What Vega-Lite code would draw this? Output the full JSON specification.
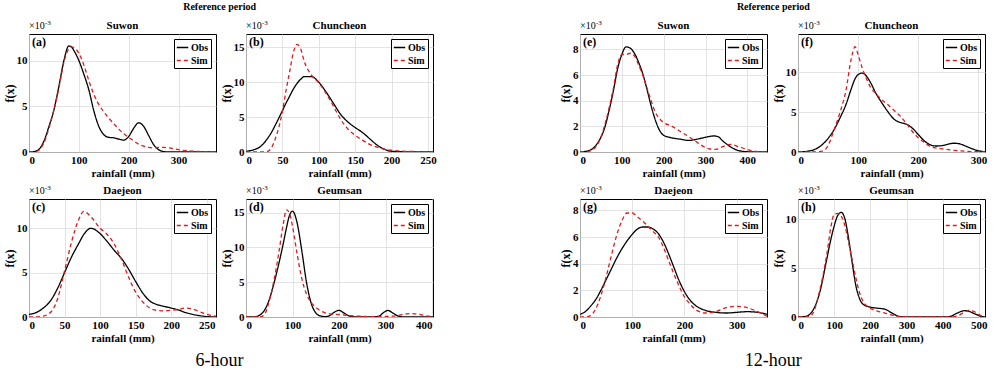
{
"$schema": "https://vega.github.io/schema/vega-lite/v6.json",
"background": "white",
"padding": {"left": 2, "top": 1, "right": 5, "bottom": 2},
"datasets": {
"a": [{"x":0,"Obs":0,"Sim":0},{"x":10,"Obs":0.05,"Sim":0.02},{"x":20,"Obs":0.3,"Sim":0.2},{"x":30,"Obs":1.2,"Sim":1.0},{"x":40,"Obs":2.8,"Sim":2.6},{"x":50,"Obs":4.6,"Sim":4.6},{"x":60,"Obs":7.2,"Sim":7.0},{"x":70,"Obs":10.0,"Sim":9.8},{"x":80,"Obs":11.6,"Sim":11.3},{"x":85,"Obs":11.5,"Sim":11.5},{"x":90,"Obs":11.1,"Sim":11.4},{"x":100,"Obs":10.0,"Sim":10.8},{"x":110,"Obs":8.5,"Sim":9.5},{"x":120,"Obs":6.8,"Sim":7.8},{"x":130,"Obs":4.5,"Sim":6.3},{"x":140,"Obs":2.8,"Sim":5.2},{"x":150,"Obs":1.9,"Sim":4.4},{"x":160,"Obs":1.6,"Sim":3.7},{"x":170,"Obs":1.55,"Sim":3.1},{"x":180,"Obs":1.4,"Sim":2.5},{"x":190,"Obs":1.3,"Sim":2.0},{"x":200,"Obs":1.7,"Sim":1.6},{"x":210,"Obs":2.6,"Sim":1.2},{"x":220,"Obs":3.2,"Sim":0.85},{"x":230,"Obs":2.8,"Sim":0.65},{"x":240,"Obs":1.8,"Sim":0.5},{"x":250,"Obs":0.8,"Sim":0.45},{"x":260,"Obs":0.25,"Sim":0.5},{"x":270,"Obs":0.05,"Sim":0.5},{"x":280,"Obs":0,"Sim":0.45},{"x":290,"Obs":0,"Sim":0.35},{"x":300,"Obs":0,"Sim":0.25},{"x":320,"Obs":0,"Sim":0.12},{"x":340,"Obs":0,"Sim":0.06},{"x":375,"Obs":0,"Sim":0.02}],
"b": [{"x":0,"Obs":0.1,"Sim":0},{"x":10,"Obs":0.3,"Sim":0},{"x":20,"Obs":0.8,"Sim":0},{"x":30,"Obs":2.0,"Sim":0.1},{"x":35,"Obs":2.8,"Sim":0.6},{"x":40,"Obs":3.8,"Sim":1.8},{"x":50,"Obs":5.9,"Sim":5.8},{"x":55,"Obs":7.0,"Sim":8.8},{"x":60,"Obs":8.0,"Sim":11.5},{"x":65,"Obs":9.0,"Sim":14.2},{"x":70,"Obs":9.8,"Sim":15.4},{"x":75,"Obs":10.4,"Sim":14.8},{"x":80,"Obs":10.8,"Sim":13.0},{"x":90,"Obs":10.8,"Sim":11.0},{"x":100,"Obs":10.0,"Sim":9.9},{"x":110,"Obs":8.6,"Sim":8.4},{"x":120,"Obs":7.0,"Sim":6.6},{"x":130,"Obs":5.4,"Sim":4.7},{"x":140,"Obs":4.3,"Sim":3.3},{"x":150,"Obs":3.5,"Sim":2.4},{"x":160,"Obs":2.8,"Sim":1.7},{"x":170,"Obs":1.9,"Sim":1.1},{"x":180,"Obs":1.0,"Sim":0.7},{"x":190,"Obs":0.4,"Sim":0.4},{"x":200,"Obs":0.1,"Sim":0.25},{"x":220,"Obs":0.02,"Sim":0.1},{"x":240,"Obs":0,"Sim":0.05},{"x":257,"Obs":0,"Sim":0.02}],
"c": [{"x":0,"Obs":0.3,"Sim":0},{"x":10,"Obs":0.5,"Sim":0},{"x":20,"Obs":1.0,"Sim":0.1},{"x":30,"Obs":1.8,"Sim":0.5},{"x":40,"Obs":3.2,"Sim":2.0},{"x":50,"Obs":5.0,"Sim":5.2},{"x":60,"Obs":6.8,"Sim":8.5},{"x":70,"Obs":8.3,"Sim":11.0},{"x":77,"Obs":9.3,"Sim":11.9},{"x":87,"Obs":10.0,"Sim":11.3},{"x":100,"Obs":9.4,"Sim":10.0},{"x":110,"Obs":8.5,"Sim":9.3},{"x":120,"Obs":7.5,"Sim":8.2},{"x":130,"Obs":6.6,"Sim":6.5},{"x":140,"Obs":5.4,"Sim":4.5},{"x":150,"Obs":4.0,"Sim":2.8},{"x":160,"Obs":2.7,"Sim":1.7},{"x":170,"Obs":1.8,"Sim":1.0},{"x":180,"Obs":1.4,"Sim":0.75},{"x":190,"Obs":1.2,"Sim":0.7},{"x":200,"Obs":1.0,"Sim":0.75},{"x":210,"Obs":0.8,"Sim":0.85},{"x":220,"Obs":0.5,"Sim":1.0},{"x":230,"Obs":0.3,"Sim":0.9},{"x":240,"Obs":0.15,"Sim":0.6},{"x":250,"Obs":0.05,"Sim":0.3},{"x":263,"Obs":0,"Sim":0.1}],
"d": [{"x":0,"Obs":0,"Sim":0},{"x":10,"Obs":0,"Sim":0},{"x":20,"Obs":0.05,"Sim":0},{"x":30,"Obs":0.3,"Sim":0},{"x":40,"Obs":1.0,"Sim":0.4},{"x":50,"Obs":2.5,"Sim":2.3},{"x":60,"Obs":4.8,"Sim":5.2},{"x":70,"Obs":7.5,"Sim":9.0},{"x":80,"Obs":10.5,"Sim":13.3},{"x":87,"Obs":12.8,"Sim":15.4},{"x":93,"Obs":14.5,"Sim":15.0},{"x":100,"Obs":15.2,"Sim":13.0},{"x":110,"Obs":13.5,"Sim":9.0},{"x":120,"Obs":9.5,"Sim":5.5},{"x":130,"Obs":5.0,"Sim":3.3},{"x":140,"Obs":2.0,"Sim":2.1},{"x":150,"Obs":0.6,"Sim":1.4},{"x":160,"Obs":0.15,"Sim":0.9},{"x":170,"Obs":0.05,"Sim":0.6},{"x":180,"Obs":0.2,"Sim":0.45},{"x":190,"Obs":0.7,"Sim":0.4},{"x":200,"Obs":0.95,"Sim":0.35},{"x":210,"Obs":0.6,"Sim":0.3},{"x":220,"Obs":0.2,"Sim":0.2},{"x":230,"Obs":0.05,"Sim":0.15},{"x":250,"Obs":0,"Sim":0.1},{"x":270,"Obs":0,"Sim":0.05},{"x":285,"Obs":0.1,"Sim":0.05},{"x":295,"Obs":0.6,"Sim":0.05},{"x":305,"Obs":0.95,"Sim":0.08},{"x":315,"Obs":0.6,"Sim":0.12},{"x":325,"Obs":0.2,"Sim":0.2},{"x":335,"Obs":0.03,"Sim":0.35},{"x":345,"Obs":0,"Sim":0.45},{"x":355,"Obs":0,"Sim":0.5},{"x":370,"Obs":0,"Sim":0.4},{"x":385,"Obs":0,"Sim":0.2},{"x":402,"Obs":0,"Sim":0.05}],
"e": [{"x":0,"Obs":0,"Sim":0},{"x":20,"Obs":0.1,"Sim":0.05},{"x":40,"Obs":0.6,"Sim":0.5},{"x":60,"Obs":2.0,"Sim":2.2},{"x":70,"Obs":3.3,"Sim":3.5},{"x":80,"Obs":4.8,"Sim":5.0},{"x":90,"Obs":6.5,"Sim":6.8},{"x":100,"Obs":7.6,"Sim":7.6},{"x":110,"Obs":8.2,"Sim":7.6},{"x":120,"Obs":8.1,"Sim":7.7},{"x":130,"Obs":7.7,"Sim":7.5},{"x":140,"Obs":7.0,"Sim":6.8},{"x":150,"Obs":6.1,"Sim":6.0},{"x":160,"Obs":4.9,"Sim":5.0},{"x":170,"Obs":3.6,"Sim":4.0},{"x":180,"Obs":2.5,"Sim":3.1},{"x":190,"Obs":1.7,"Sim":2.6},{"x":200,"Obs":1.3,"Sim":2.3},{"x":220,"Obs":1.1,"Sim":2.0},{"x":240,"Obs":1.0,"Sim":1.6},{"x":260,"Obs":0.9,"Sim":1.2},{"x":280,"Obs":1.0,"Sim":0.75},{"x":300,"Obs":1.15,"Sim":0.35},{"x":320,"Obs":1.25,"Sim":0.2},{"x":330,"Obs":1.2,"Sim":0.25},{"x":340,"Obs":0.9,"Sim":0.4},{"x":360,"Obs":0.4,"Sim":0.6},{"x":380,"Obs":0.1,"Sim":0.4},{"x":400,"Obs":0.02,"Sim":0.2},{"x":420,"Obs":0,"Sim":0.05},{"x":447,"Obs":0,"Sim":0}],
"f": [{"x":0,"Obs":0,"Sim":0},{"x":20,"Obs":0.15,"Sim":0},{"x":40,"Obs":0.9,"Sim":0.1},{"x":50,"Obs":1.7,"Sim":0.8},{"x":60,"Obs":2.8,"Sim":2.8},{"x":70,"Obs":4.3,"Sim":5.0},{"x":80,"Obs":6.0,"Sim":7.8},{"x":88,"Obs":7.8,"Sim":11.5},{"x":95,"Obs":9.2,"Sim":13.2},{"x":100,"Obs":9.7,"Sim":12.2},{"x":107,"Obs":9.9,"Sim":10.5},{"x":115,"Obs":9.4,"Sim":9.0},{"x":120,"Obs":8.8,"Sim":8.2},{"x":130,"Obs":7.3,"Sim":7.3},{"x":140,"Obs":6.1,"Sim":6.5},{"x":150,"Obs":5.0,"Sim":5.9},{"x":160,"Obs":4.1,"Sim":5.2},{"x":170,"Obs":3.7,"Sim":4.5},{"x":180,"Obs":3.5,"Sim":3.6},{"x":190,"Obs":3.0,"Sim":2.6},{"x":200,"Obs":2.2,"Sim":1.8},{"x":210,"Obs":1.4,"Sim":1.2},{"x":220,"Obs":0.9,"Sim":0.7},{"x":230,"Obs":0.75,"Sim":0.5},{"x":240,"Obs":0.8,"Sim":0.4},{"x":250,"Obs":1.0,"Sim":0.3},{"x":260,"Obs":1.1,"Sim":0.2},{"x":270,"Obs":1.0,"Sim":0.15},{"x":280,"Obs":0.7,"Sim":0.1},{"x":290,"Obs":0.4,"Sim":0.05},{"x":300,"Obs":0.15,"Sim":0.03},{"x":311,"Obs":0.05,"Sim":0.02}],
"g": [{"x":0,"Obs":0.2,"Sim":0},{"x":10,"Obs":0.4,"Sim":0},{"x":20,"Obs":0.8,"Sim":0.1},{"x":30,"Obs":1.3,"Sim":0.6},{"x":40,"Obs":2.0,"Sim":1.6},{"x":50,"Obs":2.8,"Sim":3.0},{"x":60,"Obs":3.6,"Sim":4.6},{"x":70,"Obs":4.4,"Sim":6.1},{"x":80,"Obs":5.1,"Sim":7.2},{"x":90,"Obs":5.7,"Sim":7.8},{"x":100,"Obs":6.2,"Sim":7.8},{"x":110,"Obs":6.6,"Sim":7.5},{"x":120,"Obs":6.75,"Sim":7.2},{"x":130,"Obs":6.75,"Sim":6.8},{"x":140,"Obs":6.6,"Sim":6.4},{"x":150,"Obs":6.25,"Sim":6.0},{"x":160,"Obs":5.6,"Sim":5.2},{"x":170,"Obs":4.7,"Sim":4.2},{"x":180,"Obs":3.7,"Sim":3.2},{"x":190,"Obs":2.7,"Sim":2.3},{"x":200,"Obs":1.9,"Sim":1.5},{"x":210,"Obs":1.3,"Sim":1.0},{"x":220,"Obs":0.9,"Sim":0.6},{"x":240,"Obs":0.5,"Sim":0.3},{"x":260,"Obs":0.35,"Sim":0.4},{"x":280,"Obs":0.3,"Sim":0.7},{"x":300,"Obs":0.35,"Sim":0.8},{"x":320,"Obs":0.4,"Sim":0.7},{"x":340,"Obs":0.35,"Sim":0.4},{"x":358,"Obs":0.2,"Sim":0.05}],
"h": [{"x":0,"Obs":0,"Sim":0},{"x":20,"Obs":0.05,"Sim":0},{"x":30,"Obs":0.2,"Sim":0.05},{"x":40,"Obs":0.6,"Sim":0.3},{"x":60,"Obs":2.5,"Sim":2.7},{"x":80,"Obs":6.0,"Sim":6.5},{"x":90,"Obs":7.8,"Sim":9.0},{"x":100,"Obs":9.3,"Sim":10.5},{"x":110,"Obs":10.4,"Sim":10.6},{"x":120,"Obs":10.7,"Sim":10.3},{"x":130,"Obs":10.0,"Sim":9.3},{"x":140,"Obs":8.0,"Sim":7.6},{"x":150,"Obs":5.5,"Sim":5.8},{"x":160,"Obs":3.2,"Sim":4.0},{"x":170,"Obs":1.9,"Sim":2.5},{"x":180,"Obs":1.3,"Sim":1.6},{"x":200,"Obs":1.0,"Sim":0.9},{"x":220,"Obs":0.9,"Sim":0.6},{"x":240,"Obs":0.8,"Sim":0.4},{"x":260,"Obs":0.4,"Sim":0.2},{"x":280,"Obs":0.05,"Sim":0.05},{"x":300,"Obs":0,"Sim":0},{"x":400,"Obs":0,"Sim":0},{"x":420,"Obs":0.05,"Sim":0},{"x":440,"Obs":0.4,"Sim":0.1},{"x":460,"Obs":0.65,"Sim":0.5},{"x":475,"Obs":0.55,"Sim":0.7},{"x":490,"Obs":0.3,"Sim":0.5},{"x":505,"Obs":0.08,"Sim":0.15},{"x":517,"Obs":0,"Sim":0}]
},
"spacing": 122,
"resolve": {"scale": {"color": "independent", "strokeDash": "independent"}},
"hconcat": [
{"title": {"text": "6-hour", "orient": "bottom", "fontSize": 18, "fontWeight": "normal", "offset": 8},
 "resolve": {"scale": {"color": "independent", "strokeDash": "independent"}},
 "vconcat": [
 {"title": {"text": "Reference period", "fontSize": 10, "offset": 7},
  "spacing": 4,
  "resolve": {"scale": {"color": "independent", "strokeDash": "independent"}},
  "vconcat": [
  {"bounds": "flush", "spacing": 30,
   "resolve": {"scale": {"color": "independent", "strokeDash": "independent"}},
   "hconcat": [
   {"width": 187, "height": 118, "data": {"name": "a"},
    "layer": [
     {"transform": [{"fold": ["Obs", "Sim"], "as": ["s", "y"]}],
      "mark": {"type": "line", "interpolate": "monotone", "strokeWidth": 1.3, "clip": true},
      "encoding": {
       "x": {"field": "x", "type": "quantitative", "scale": {"domain": [0, 375], "nice": false}, "axis": {"values": [0, 100, 200, 300], "title": "rainfall (mm)"}},
       "y": {"field": "y", "type": "quantitative", "scale": {"domain": [0, 12.9], "nice": false}, "axis": {"values": [0, 5, 10], "title": "f(x)"}},
       "color": {"field": "s", "type": "nominal", "scale": {"domain": ["Obs", "Sim"], "range": ["#000000", "#e4181c"]}, "legend": {"title": null}},
       "strokeDash": {"field": "s", "type": "nominal", "scale": {"domain": ["Obs", "Sim"], "range": [[1, 0], [4, 3]]}, "legend": {"title": null}}}},
     {"data": {"values": [{"t": "(a)"}]}, "mark": {"type": "text", "align": "left", "baseline": "top", "dx": 3, "dy": 3, "fontSize": 12, "fontWeight": "bold"},
      "encoding": {"x": {"datum": 0}, "y": {"datum": 12.9}, "text": {"field": "t"}}},
     {"data": {"values": [{"t": "×10"}]}, "mark": {"type": "text", "align": "left", "baseline": "bottom", "dy": -3, "fontSize": 10},
      "encoding": {"x": {"datum": 0}, "y": {"datum": 12.9}, "text": {"field": "t"}}},
     {"data": {"values": [{"t": "-3"}]}, "mark": {"type": "text", "align": "left", "baseline": "bottom", "dx": 16, "dy": -8, "fontSize": 7},
      "encoding": {"x": {"datum": 0}, "y": {"datum": 12.9}, "text": {"field": "t"}}},
     {"data": {"values": [{"t": "Suwon"}]}, "mark": {"type": "text", "align": "center", "baseline": "bottom", "dy": -3, "fontSize": 11, "fontWeight": "bold"},
      "encoding": {"x": {"datum": 187.5}, "y": {"datum": 12.9}, "text": {"field": "t"}}}]},
   {"width": 187, "height": 118, "data": {"name": "b"},
    "layer": [
     {"transform": [{"fold": ["Obs", "Sim"], "as": ["s", "y"]}],
      "mark": {"type": "line", "interpolate": "monotone", "strokeWidth": 1.3, "clip": true},
      "encoding": {
       "x": {"field": "x", "type": "quantitative", "scale": {"domain": [0, 257], "nice": false}, "axis": {"values": [0, 50, 100, 150, 200, 250], "title": "rainfall (mm)"}},
       "y": {"field": "y", "type": "quantitative", "scale": {"domain": [0, 16.9], "nice": false}, "axis": {"values": [0, 5, 10, 15], "title": "f(x)"}},
       "color": {"field": "s", "type": "nominal", "scale": {"domain": ["Obs", "Sim"], "range": ["#000000", "#e4181c"]}, "legend": {"title": null}},
       "strokeDash": {"field": "s", "type": "nominal", "scale": {"domain": ["Obs", "Sim"], "range": [[1, 0], [4, 3]]}, "legend": {"title": null}}}},
     {"data": {"values": [{"t": "(b)"}]}, "mark": {"type": "text", "align": "left", "baseline": "top", "dx": 3, "dy": 3, "fontSize": 12, "fontWeight": "bold"},
      "encoding": {"x": {"datum": 0}, "y": {"datum": 16.9}, "text": {"field": "t"}}},
     {"data": {"values": [{"t": "×10"}]}, "mark": {"type": "text", "align": "left", "baseline": "bottom", "dy": -3, "fontSize": 10},
      "encoding": {"x": {"datum": 0}, "y": {"datum": 16.9}, "text": {"field": "t"}}},
     {"data": {"values": [{"t": "-3"}]}, "mark": {"type": "text", "align": "left", "baseline": "bottom", "dx": 16, "dy": -8, "fontSize": 7},
      "encoding": {"x": {"datum": 0}, "y": {"datum": 16.9}, "text": {"field": "t"}}},
     {"data": {"values": [{"t": "Chuncheon"}]}, "mark": {"type": "text", "align": "center", "baseline": "bottom", "dy": -3, "fontSize": 11, "fontWeight": "bold"},
      "encoding": {"x": {"datum": 128.5}, "y": {"datum": 16.9}, "text": {"field": "t"}}}]}]},
  {"bounds": "flush", "spacing": 30,
   "resolve": {"scale": {"color": "independent", "strokeDash": "independent"}},
   "hconcat": [
   {"width": 187, "height": 118, "data": {"name": "c"},
    "layer": [
     {"transform": [{"fold": ["Obs", "Sim"], "as": ["s", "y"]}],
      "mark": {"type": "line", "interpolate": "monotone", "strokeWidth": 1.3, "clip": true},
      "encoding": {
       "x": {"field": "x", "type": "quantitative", "scale": {"domain": [0, 263], "nice": false}, "axis": {"values": [0, 50, 100, 150, 200, 250], "title": "rainfall (mm)"}},
       "y": {"field": "y", "type": "quantitative", "scale": {"domain": [0, 13.3], "nice": false}, "axis": {"values": [0, 5, 10], "title": "f(x)"}},
       "color": {"field": "s", "type": "nominal", "scale": {"domain": ["Obs", "Sim"], "range": ["#000000", "#e4181c"]}, "legend": {"title": null}},
       "strokeDash": {"field": "s", "type": "nominal", "scale": {"domain": ["Obs", "Sim"], "range": [[1, 0], [4, 3]]}, "legend": {"title": null}}}},
     {"data": {"values": [{"t": "(c)"}]}, "mark": {"type": "text", "align": "left", "baseline": "top", "dx": 3, "dy": 3, "fontSize": 12, "fontWeight": "bold"},
      "encoding": {"x": {"datum": 0}, "y": {"datum": 13.3}, "text": {"field": "t"}}},
     {"data": {"values": [{"t": "×10"}]}, "mark": {"type": "text", "align": "left", "baseline": "bottom", "dy": -3, "fontSize": 10},
      "encoding": {"x": {"datum": 0}, "y": {"datum": 13.3}, "text": {"field": "t"}}},
     {"data": {"values": [{"t": "-3"}]}, "mark": {"type": "text", "align": "left", "baseline": "bottom", "dx": 16, "dy": -8, "fontSize": 7},
      "encoding": {"x": {"datum": 0}, "y": {"datum": 13.3}, "text": {"field": "t"}}},
     {"data": {"values": [{"t": "Daejeon"}]}, "mark": {"type": "text", "align": "center", "baseline": "bottom", "dy": -3, "fontSize": 11, "fontWeight": "bold"},
      "encoding": {"x": {"datum": 131.5}, "y": {"datum": 13.3}, "text": {"field": "t"}}}]},
   {"width": 187, "height": 118, "data": {"name": "d"},
    "layer": [
     {"transform": [{"fold": ["Obs", "Sim"], "as": ["s", "y"]}],
      "mark": {"type": "line", "interpolate": "monotone", "strokeWidth": 1.3, "clip": true},
      "encoding": {
       "x": {"field": "x", "type": "quantitative", "scale": {"domain": [0, 402], "nice": false}, "axis": {"values": [0, 100, 200, 300, 400], "title": "rainfall (mm)"}},
       "y": {"field": "y", "type": "quantitative", "scale": {"domain": [0, 16.95], "nice": false}, "axis": {"values": [0, 5, 10, 15], "title": "f(x)"}},
       "color": {"field": "s", "type": "nominal", "scale": {"domain": ["Obs", "Sim"], "range": ["#000000", "#e4181c"]}, "legend": {"title": null}},
       "strokeDash": {"field": "s", "type": "nominal", "scale": {"domain": ["Obs", "Sim"], "range": [[1, 0], [4, 3]]}, "legend": {"title": null}}}},
     {"data": {"values": [{"t": "(d)"}]}, "mark": {"type": "text", "align": "left", "baseline": "top", "dx": 3, "dy": 3, "fontSize": 12, "fontWeight": "bold"},
      "encoding": {"x": {"datum": 0}, "y": {"datum": 16.95}, "text": {"field": "t"}}},
     {"data": {"values": [{"t": "×10"}]}, "mark": {"type": "text", "align": "left", "baseline": "bottom", "dy": -3, "fontSize": 10},
      "encoding": {"x": {"datum": 0}, "y": {"datum": 16.95}, "text": {"field": "t"}}},
     {"data": {"values": [{"t": "-3"}]}, "mark": {"type": "text", "align": "left", "baseline": "bottom", "dx": 16, "dy": -8, "fontSize": 7},
      "encoding": {"x": {"datum": 0}, "y": {"datum": 16.95}, "text": {"field": "t"}}},
     {"data": {"values": [{"t": "Geumsan"}]}, "mark": {"type": "text", "align": "center", "baseline": "bottom", "dy": -3, "fontSize": 11, "fontWeight": "bold"},
      "encoding": {"x": {"datum": 201}, "y": {"datum": 16.95}, "text": {"field": "t"}}}]}]}]}]},
{"title": {"text": "12-hour", "orient": "bottom", "fontSize": 18, "fontWeight": "normal", "offset": 8},
 "resolve": {"scale": {"color": "independent", "strokeDash": "independent"}},
 "vconcat": [
 {"title": {"text": "Reference period", "fontSize": 10, "offset": 7},
  "spacing": 4,
  "resolve": {"scale": {"color": "independent", "strokeDash": "independent"}},
  "vconcat": [
  {"bounds": "flush", "spacing": 31,
   "resolve": {"scale": {"color": "independent", "strokeDash": "independent"}},
   "hconcat": [
   {"width": 187, "height": 118, "data": {"name": "e"},
    "layer": [
     {"transform": [{"fold": ["Obs", "Sim"], "as": ["s", "y"]}],
      "mark": {"type": "line", "interpolate": "monotone", "strokeWidth": 1.3, "clip": true},
      "encoding": {
       "x": {"field": "x", "type": "quantitative", "scale": {"domain": [0, 447], "nice": false}, "axis": {"values": [0, 100, 200, 300, 400], "title": "rainfall (mm)"}},
       "y": {"field": "y", "type": "quantitative", "scale": {"domain": [0, 9.2], "nice": false}, "axis": {"values": [0, 2, 4, 6, 8], "title": "f(x)"}},
       "color": {"field": "s", "type": "nominal", "scale": {"domain": ["Obs", "Sim"], "range": ["#000000", "#e4181c"]}, "legend": {"title": null}},
       "strokeDash": {"field": "s", "type": "nominal", "scale": {"domain": ["Obs", "Sim"], "range": [[1, 0], [4, 3]]}, "legend": {"title": null}}}},
     {"data": {"values": [{"t": "(e)"}]}, "mark": {"type": "text", "align": "left", "baseline": "top", "dx": 3, "dy": 3, "fontSize": 12, "fontWeight": "bold"},
      "encoding": {"x": {"datum": 0}, "y": {"datum": 9.2}, "text": {"field": "t"}}},
     {"data": {"values": [{"t": "×10"}]}, "mark": {"type": "text", "align": "left", "baseline": "bottom", "dy": -3, "fontSize": 10},
      "encoding": {"x": {"datum": 0}, "y": {"datum": 9.2}, "text": {"field": "t"}}},
     {"data": {"values": [{"t": "-3"}]}, "mark": {"type": "text", "align": "left", "baseline": "bottom", "dx": 16, "dy": -8, "fontSize": 7},
      "encoding": {"x": {"datum": 0}, "y": {"datum": 9.2}, "text": {"field": "t"}}},
     {"data": {"values": [{"t": "Suwon"}]}, "mark": {"type": "text", "align": "center", "baseline": "bottom", "dy": -3, "fontSize": 11, "fontWeight": "bold"},
      "encoding": {"x": {"datum": 223.5}, "y": {"datum": 9.2}, "text": {"field": "t"}}}]},
   {"width": 187, "height": 118, "data": {"name": "f"},
    "layer": [
     {"transform": [{"fold": ["Obs", "Sim"], "as": ["s", "y"]}],
      "mark": {"type": "line", "interpolate": "monotone", "strokeWidth": 1.3, "clip": true},
      "encoding": {
       "x": {"field": "x", "type": "quantitative", "scale": {"domain": [0, 311], "nice": false}, "axis": {"values": [0, 100, 200, 300], "title": "rainfall (mm)"}},
       "y": {"field": "y", "type": "quantitative", "scale": {"domain": [0, 14.8], "nice": false}, "axis": {"values": [0, 5, 10], "title": "f(x)"}},
       "color": {"field": "s", "type": "nominal", "scale": {"domain": ["Obs", "Sim"], "range": ["#000000", "#e4181c"]}, "legend": {"title": null}},
       "strokeDash": {"field": "s", "type": "nominal", "scale": {"domain": ["Obs", "Sim"], "range": [[1, 0], [4, 3]]}, "legend": {"title": null}}}},
     {"data": {"values": [{"t": "(f)"}]}, "mark": {"type": "text", "align": "left", "baseline": "top", "dx": 3, "dy": 3, "fontSize": 12, "fontWeight": "bold"},
      "encoding": {"x": {"datum": 0}, "y": {"datum": 14.8}, "text": {"field": "t"}}},
     {"data": {"values": [{"t": "×10"}]}, "mark": {"type": "text", "align": "left", "baseline": "bottom", "dy": -3, "fontSize": 10},
      "encoding": {"x": {"datum": 0}, "y": {"datum": 14.8}, "text": {"field": "t"}}},
     {"data": {"values": [{"t": "-3"}]}, "mark": {"type": "text", "align": "left", "baseline": "bottom", "dx": 16, "dy": -8, "fontSize": 7},
      "encoding": {"x": {"datum": 0}, "y": {"datum": 14.8}, "text": {"field": "t"}}},
     {"data": {"values": [{"t": "Chuncheon"}]}, "mark": {"type": "text", "align": "center", "baseline": "bottom", "dy": -3, "fontSize": 11, "fontWeight": "bold"},
      "encoding": {"x": {"datum": 155.5}, "y": {"datum": 14.8}, "text": {"field": "t"}}}]}]},
  {"bounds": "flush", "spacing": 31,
   "resolve": {"scale": {"color": "independent", "strokeDash": "independent"}},
   "hconcat": [
   {"width": 187, "height": 118, "data": {"name": "g"},
    "layer": [
     {"transform": [{"fold": ["Obs", "Sim"], "as": ["s", "y"]}],
      "mark": {"type": "line", "interpolate": "monotone", "strokeWidth": 1.3, "clip": true},
      "encoding": {
       "x": {"field": "x", "type": "quantitative", "scale": {"domain": [0, 358], "nice": false}, "axis": {"values": [0, 100, 200, 300], "title": "rainfall (mm)"}},
       "y": {"field": "y", "type": "quantitative", "scale": {"domain": [0, 8.85], "nice": false}, "axis": {"values": [0, 2, 4, 6, 8], "title": "f(x)"}},
       "color": {"field": "s", "type": "nominal", "scale": {"domain": ["Obs", "Sim"], "range": ["#000000", "#e4181c"]}, "legend": {"title": null}},
       "strokeDash": {"field": "s", "type": "nominal", "scale": {"domain": ["Obs", "Sim"], "range": [[1, 0], [4, 3]]}, "legend": {"title": null}}}},
     {"data": {"values": [{"t": "(g)"}]}, "mark": {"type": "text", "align": "left", "baseline": "top", "dx": 3, "dy": 3, "fontSize": 12, "fontWeight": "bold"},
      "encoding": {"x": {"datum": 0}, "y": {"datum": 8.85}, "text": {"field": "t"}}},
     {"data": {"values": [{"t": "×10"}]}, "mark": {"type": "text", "align": "left", "baseline": "bottom", "dy": -3, "fontSize": 10},
      "encoding": {"x": {"datum": 0}, "y": {"datum": 8.85}, "text": {"field": "t"}}},
     {"data": {"values": [{"t": "-3"}]}, "mark": {"type": "text", "align": "left", "baseline": "bottom", "dx": 16, "dy": -8, "fontSize": 7},
      "encoding": {"x": {"datum": 0}, "y": {"datum": 8.85}, "text": {"field": "t"}}},
     {"data": {"values": [{"t": "Daejeon"}]}, "mark": {"type": "text", "align": "center", "baseline": "bottom", "dy": -3, "fontSize": 11, "fontWeight": "bold"},
      "encoding": {"x": {"datum": 179}, "y": {"datum": 8.85}, "text": {"field": "t"}}}]},
   {"width": 187, "height": 118, "data": {"name": "h"},
    "layer": [
     {"transform": [{"fold": ["Obs", "Sim"], "as": ["s", "y"]}],
      "mark": {"type": "line", "interpolate": "monotone", "strokeWidth": 1.3, "clip": true},
      "encoding": {
       "x": {"field": "x", "type": "quantitative", "scale": {"domain": [0, 517], "nice": false}, "axis": {"values": [0, 100, 200, 300, 400, 500], "title": "rainfall (mm)"}},
       "y": {"field": "y", "type": "quantitative", "scale": {"domain": [0, 12.07], "nice": false}, "axis": {"values": [0, 5, 10], "title": "f(x)"}},
       "color": {"field": "s", "type": "nominal", "scale": {"domain": ["Obs", "Sim"], "range": ["#000000", "#e4181c"]}, "legend": {"title": null}},
       "strokeDash": {"field": "s", "type": "nominal", "scale": {"domain": ["Obs", "Sim"], "range": [[1, 0], [4, 3]]}, "legend": {"title": null}}}},
     {"data": {"values": [{"t": "(h)"}]}, "mark": {"type": "text", "align": "left", "baseline": "top", "dx": 3, "dy": 3, "fontSize": 12, "fontWeight": "bold"},
      "encoding": {"x": {"datum": 0}, "y": {"datum": 12.07}, "text": {"field": "t"}}},
     {"data": {"values": [{"t": "×10"}]}, "mark": {"type": "text", "align": "left", "baseline": "bottom", "dy": -3, "fontSize": 10},
      "encoding": {"x": {"datum": 0}, "y": {"datum": 12.07}, "text": {"field": "t"}}},
     {"data": {"values": [{"t": "-3"}]}, "mark": {"type": "text", "align": "left", "baseline": "bottom", "dx": 16, "dy": -8, "fontSize": 7},
      "encoding": {"x": {"datum": 0}, "y": {"datum": 12.07}, "text": {"field": "t"}}},
     {"data": {"values": [{"t": "Geumsan"}]}, "mark": {"type": "text", "align": "center", "baseline": "bottom", "dy": -3, "fontSize": 11, "fontWeight": "bold"},
      "encoding": {"x": {"datum": 258.5}, "y": {"datum": 12.07}, "text": {"field": "t"}}}]}]}]}]}
],
"config": {
 "font": "Liberation Serif",
 "text": {"font": "Liberation Serif", "color": "#000000"},
 "view": {"stroke": "#000000", "strokeWidth": 1},
 "title": {"font": "Liberation Serif", "fontSize": 11, "fontWeight": "bold", "color": "#000000", "anchor": "middle"},
 "axis": {"labelFont": "Liberation Serif", "labelFontWeight": "bold", "labelFontSize": 11, "labelColor": "#000000", "titleFont": "Liberation Serif", "titleFontWeight": "bold", "titleFontSize": 11, "titleColor": "#000000", "domain": false, "ticks": false, "gridColor": "#dcdcdc", "gridWidth": 0.8, "labelPadding": 2, "labelOverlap": false, "tickCount": 20, "format": "d"},
 "axisX": {"titlePadding": 2},
 "axisY": {"titlePadding": 0, "titleFontSize": 12},
 "legend": {"orient": "top-right", "offset": 5, "padding": 2, "strokeColor": "#000000", "fillColor": "#ffffff", "symbolType": "stroke", "symbolSize": 130, "symbolStrokeWidth": 1.3, "labelFont": "Liberation Serif", "labelFontWeight": "bold", "labelFontSize": 10, "labelColor": "#000000", "rowPadding": 1, "labelOffset": 2, "cornerRadius": 0}
}
}
